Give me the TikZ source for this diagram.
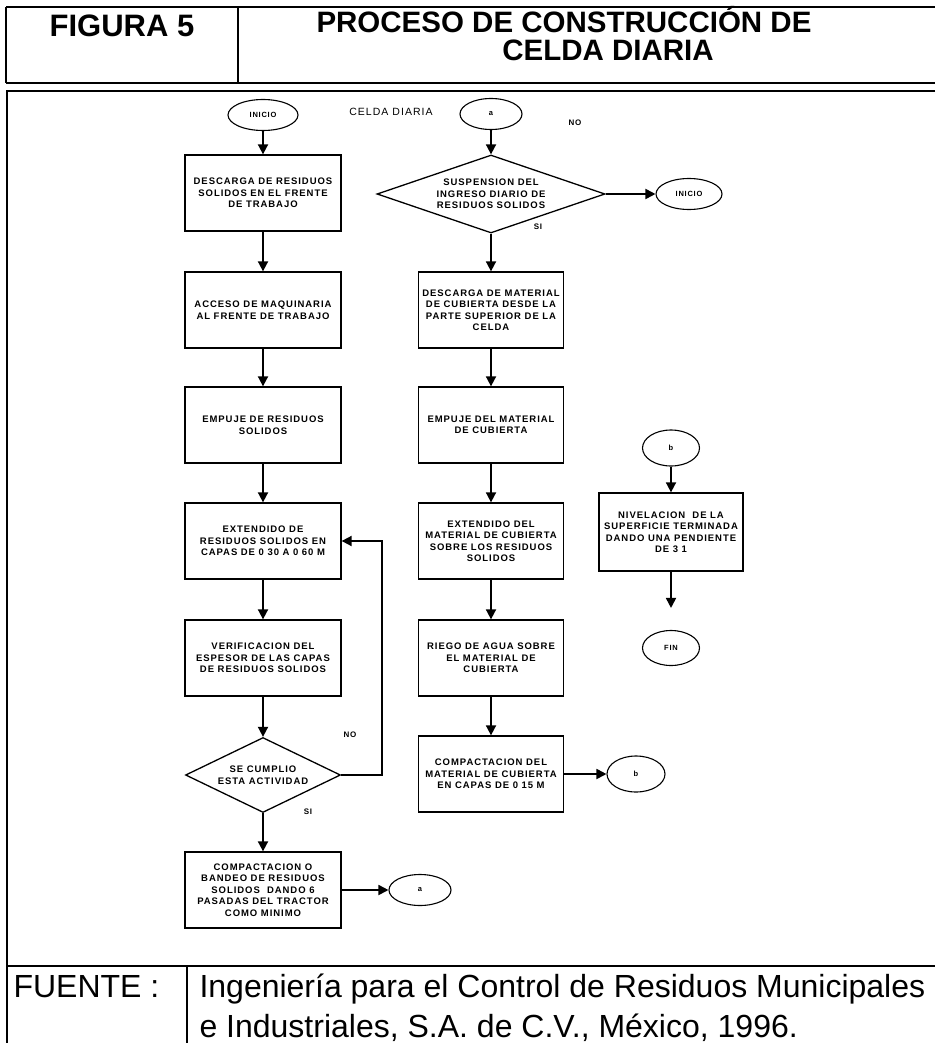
\documentclass[tikz,border=0pt]{standalone}
\usepackage{fontspec}
\setmainfont{Liberation Sans}
\newfontfamily\boxfont[LetterSpace=10]{Liberation Sans}
\usetikzlibrary{shapes.geometric,arrows.meta}
\begin{document}
\begin{tikzpicture}[x=1pt,y=-1pt,
  proc/.style={draw,line width=1.3pt,minimum width=156pt,minimum height=76pt,inner sep=0pt,
    align=center,font=\boxfont\bfseries\fontsize{9.5}{11.5}\selectfont},
  procr/.style={proc,minimum width=145pt},
  decision/.style={draw,diamond,line width=1.3pt,inner sep=0pt,align=center,
    font=\boxfont\bfseries\fontsize{9.5}{11.5}\selectfont},
  term/.style={draw,ellipse,line width=1.1pt,inner sep=0pt,minimum width=66pt,minimum height=31pt,
    font=\boxfont\bfseries\fontsize{7.5}{9}\selectfont},
  lbl/.style={font=\boxfont\bfseries\fontsize{8}{9}\selectfont},
  arr/.style={line width=1.8pt,-{Triangle[width=10pt,length=10pt]}},
  frame/.style={line width=2.2pt},
  heading/.style={anchor=base,font=\bfseries\fontsize{29.5}{30}\selectfont},
  source/.style={anchor=base west,font=\fontsize{32}{33}\selectfont},
]
\useasboundingbox (0,0) rectangle (935,1043);

% header and outer frame
\draw[frame,line width=2.6pt] (6,7) -- (935,7);
\draw[frame,line width=2.6pt] (6,83) -- (935,83);
\draw[frame] (6,7) -- (6,83);
\draw[frame] (238,7) -- (238,83);
\draw[frame] (935,91) -- (7,91) -- (7,1043);
\draw[frame] (7,966) -- (935,966);
\draw[frame,line width=1.6pt] (187,966) -- (187,1043);

\node[heading,font=\bfseries\fontsize{31}{32}\selectfont] (fig) at (122,37) {FIGURA 5};
\node[heading] (tit1) at (564,33) {PROCESO DE CONSTRUCCIÓN DE};
\node[heading] (tit2) at (608,61) {CELDA DIARIA};

% left column
\node[term,minimum width=70pt] (ini) at (263,115) {INICIO};
\node[font=\boxfont\fontsize{10.5}{12}\selectfont] (celda) at (391,112) {CELDA DIARIA};
\node[proc] (b1) at (263,193) {DESCARGA DE RESIDUOS\\SOLIDOS EN EL FRENTE\\DE TRABAJO};
\node[proc] (b2) at (263,310) {ACCESO DE MAQUINARIA\\AL FRENTE DE TRABAJO};
\node[proc] (b3) at (263,425) {EMPUJE DE RESIDUOS\\SOLIDOS};
\node[proc] (b4) at (263,541) {EXTENDIDO DE\\RESIDUOS SOLIDOS EN\\CAPAS DE 0 30 A 0 60 M};
\node[proc] (b5) at (263,658) {VERIFICACION DEL\\ESPESOR DE LAS CAPAS\\DE RESIDUOS SOLIDOS};
\node[decision,shape aspect=2.07,minimum width=155pt,minimum height=75pt] (d1) at (263,775) {SE CUMPLIO\\ESTA ACTIVIDAD};
\node[proc] (b6) at (263,890) {COMPACTACION O\\BANDEO DE RESIDUOS\\SOLIDOS\ \ DANDO 6\\PASADAS DEL TRACTOR\\COMO MINIMO};
\node[term,minimum width=62pt] (a1) at (420,890) {a};
\node[lbl] (no1) at (350,735) {NO};
\node[lbl] (si1) at (308,812) {SI};

\draw[arr] (ini) -- (b1);
\draw[arr] (b1) -- (b2);
\draw[arr] (b2) -- (b3);
\draw[arr] (b3) -- (b4);
\draw[arr] (b4) -- (b5);
\draw[arr] (b5) -- (d1);
\draw[arr] (d1) -- (b6);
\draw[arr] (d1.east) -- ++(41,0) |- (b4.east);
\draw[arr] (b6) -- (a1);

% middle column
\node[term,minimum width=62pt] (a2) at (491,114) {a};
\node[decision,shape aspect=2.9,minimum width=228pt,minimum height=78pt] (d2) at (491,194) {SUSPENSION DEL\\INGRESO DIARIO DE\\RESIDUOS SOLIDOS};
\node[term] (ini2) at (689,194) {INICIO};
\node[lbl] (no2) at (575,123) {NO};
\node[lbl] (si2) at (538,227) {SI};
\node[procr] (c1) at (491,310) {DESCARGA DE MATERIAL\\DE CUBIERTA DESDE LA\\PARTE SUPERIOR DE LA\\CELDA};
\node[procr] (c2) at (491,425) {EMPUJE DEL MATERIAL\\DE CUBIERTA};
\node[procr] (c3) at (491,541) {EXTENDIDO DEL\\MATERIAL DE CUBIERTA\\SOBRE LOS RESIDUOS\\SOLIDOS};
\node[procr] (c4) at (491,658) {RIEGO DE AGUA SOBRE\\EL MATERIAL DE\\CUBIERTA};
\node[procr] (c5) at (491,774) {COMPACTACION DEL\\MATERIAL DE CUBIERTA\\EN CAPAS DE 0 15 M};
\node[term,minimum width=58pt,minimum height=36pt] (bb) at (636,774) {b};

\draw[arr] (a2) -- (d2);
\draw[arr] (d2) -- (ini2);
\draw[arr] (d2) -- (c1);
\draw[arr] (c1) -- (c2);
\draw[arr] (c2) -- (c3);
\draw[arr] (c3) -- (c4);
\draw[arr] (c4) -- (c5);
\draw[arr] (c5) -- (bb);

% right column
\node[term,minimum width=57pt,minimum height=36pt] (bt) at (671,448) {b};
\node[procr,minimum width=144pt,minimum height=78pt] (n1) at (671,532) {NIVELACION\ \ DE LA\\SUPERFICIE TERMINADA\\DANDO UNA PENDIENTE\\DE 3 1};
\node[term,minimum width=57pt,minimum height=35pt] (fin) at (671,648) {FIN};

\draw[arr] (bt) -- (n1);
\draw[arr,shorten >=22pt] (n1) -- (fin);

% source line
\node[source] (fuente) at (10,997) {FUENTE :};
\node[source] (src1) at (196,997) {Ingeniería para el Control de Residuos Municipales};
\node[source] (src2) at (196,1037) {e Industriales, S.A. de C.V., México, 1996.};
\end{tikzpicture}
\end{document}
